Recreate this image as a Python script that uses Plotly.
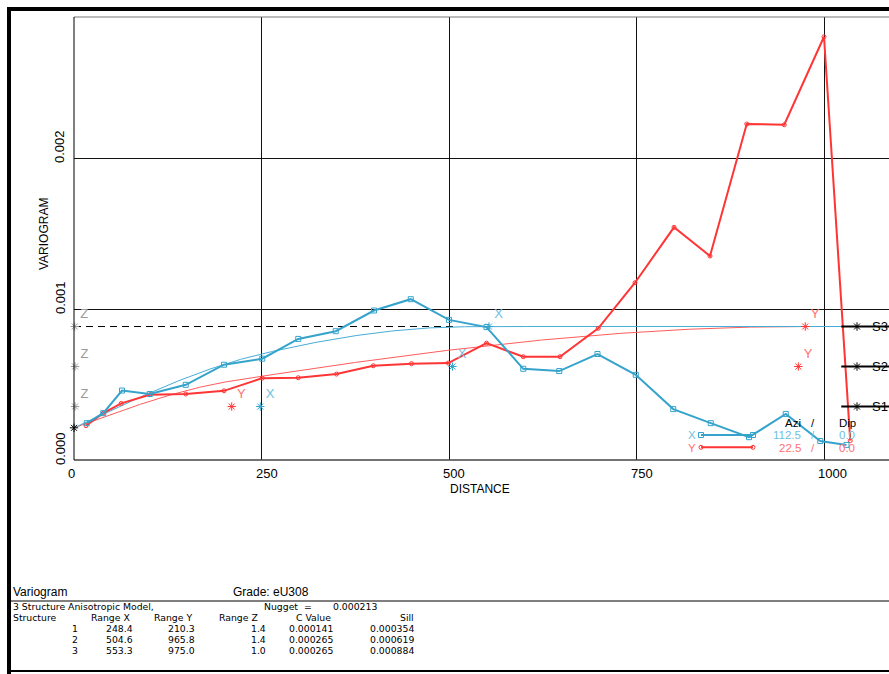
import numpy as np
import plotly.graph_objects as go

# ---- experimental variogram, X direction (azi 112.5 / dip 0.0)
lag_x = [17, 39, 64, 101, 149, 200, 251, 299, 349, 400, 449, 500, 550, 599,
         647, 698, 749, 799, 849, 900, 949, 995, 1030]
gam_x = [0.000244, 0.000310, 0.000460, 0.000437, 0.000498, 0.000631, 0.000671,
         0.000802, 0.000853, 0.000990, 0.001065, 0.000928, 0.000880, 0.000604,
         0.000589, 0.000702, 0.000564, 0.000337, 0.000244, 0.000151, 0.000305,
         0.000126, 0.000100]

# ---- experimental variogram, Y direction (azi 22.5 / dip 0.0)
lag_y = [16, 39, 63, 101, 149, 200, 251, 299, 350, 399, 450, 499, 550, 599,
         648, 699, 748, 800, 848, 897, 947, 1000, 1035]
gam_y = [0.000227, 0.000310, 0.000375, 0.000432, 0.000437, 0.000458, 0.000542,
         0.000545, 0.000569, 0.000624, 0.000638, 0.000642, 0.000774, 0.000684,
         0.000684, 0.000872, 0.001174, 0.001541, 0.001351, 0.002225, 0.002220,
         0.002803, 0.000128]

# ---- 3 structure anisotropic spherical model
nugget = 0.000213
structures = ["1", "2", "3"]
range_x = [248.4, 504.6, 553.3]
range_y = [210.3, 965.8, 975.0]
range_z = [1.4, 1.4, 1.0]
c_value = [0.000141, 0.000265, 0.000265]
sill = [0.000354, 0.000619, 0.000884]

azi_x, dip_x = "112.5", "0.0"
azi_y, dip_y = "22.5", "0.0"

x_ticks = [0, 250, 500, 750, 1000]
y_ticks = [0.000, 0.001, 0.002]
y_tick_text = ["0.000", "0.001", "0.002"]

model_end = 1023.0

BLUE = "#35A3CC"
BLUE_M = "#45ADD6"
RED = "#FF3535"
RED_M = "#FF5C5C"
BLUE_T = "#6FC0E0"
RED_T = "#FF7070"
GREY = "#9A9A9A"
FONT = "Liberation Sans"
TABLE_FONT = "DejaVu Sans"

# ---- page geometry (pixels)
W, H = 889, 674
L, T, B = 74, 17, 214
PW = W - L
PH = H - T - B
X_PER_PX = 1 / 0.75
XMAX = PW * X_PER_PX
YMAX = PH / 151000.0


def px(xp):
    return (xp - L) / PW


def py(yp):
    return (H - B - yp) / PH


def spherical(h, a):
    r = np.minimum(h / a, 1.0)
    return 1.5 * r - 0.5 * r ** 3


def model(h, ranges):
    g = np.full_like(h, nugget)
    for c, a in zip(c_value, ranges):
        g = g + c * spherical(h, a)
    return g


h = np.linspace(0, model_end, 600)

fig = go.Figure()

# Z direction sill line (reached at range ~1)
fig.add_trace(go.Scatter(x=[0, 512], y=[sill[-1], sill[-1]], mode="lines",
                         line=dict(color="black", width=1, dash="7px,5px"),
                         hoverinfo="skip"))

# model curves
fig.add_trace(go.Scatter(x=h, y=model(h, range_y), mode="lines",
                         line=dict(color=RED_M, width=1), hoverinfo="skip"))
fig.add_trace(go.Scatter(x=h, y=model(h, range_x), mode="lines",
                         line=dict(color=BLUE_M, width=1), hoverinfo="skip"))

# experimental curves
fig.add_trace(go.Scatter(x=lag_y, y=gam_y, mode="lines+markers",
                         line=dict(color=RED, width=2),
                         marker=dict(symbol="circle-open", size=4, color=RED,
                                     line=dict(width=1)),
                         cliponaxis=False))
fig.add_trace(go.Scatter(x=lag_x, y=gam_x, mode="lines+markers",
                         line=dict(color=BLUE, width=2),
                         marker=dict(symbol="square-open", size=5, color=BLUE,
                                     line=dict(width=1)),
                         cliponaxis=False))

# range markers for each structure
star = dict(symbol="asterisk-open", size=7, line=dict(width=1))
fig.add_trace(go.Scatter(x=range_z, y=sill, mode="markers+text", text=["Z"] * 3,
                         textposition="top right",
                         textfont=dict(color=GREY, size=13, family=FONT),
                         marker=dict(color=GREY, **star), cliponaxis=False))
fig.add_trace(go.Scatter(x=range_x, y=sill, mode="markers+text", text=["X"] * 3,
                         textposition="top right",
                         textfont=dict(color=BLUE_T, size=13, family=FONT),
                         marker=dict(color=BLUE, **star), cliponaxis=False))
fig.add_trace(go.Scatter(x=range_y, y=sill, mode="markers+text", text=["Y"] * 3,
                         textposition="top right",
                         textfont=dict(color=RED_T, size=13, family=FONT),
                         marker=dict(color=RED, **star), cliponaxis=False))

# nugget
fig.add_trace(go.Scatter(x=[0], y=[nugget], mode="markers",
                         marker=dict(color="black", **star), cliponaxis=False))

# sill levels S1..S3 at right
s_x0 = model_end
s_star = (857 - L) * X_PER_PX
for i, s in enumerate(sill):
    fig.add_trace(go.Scatter(x=[s_x0, XMAX + 5], y=[s, s], mode="lines",
                             line=dict(color="black", width=2), cliponaxis=False))
    fig.add_trace(go.Scatter(x=[s_star], y=[s], mode="markers",
                             marker=dict(color="black", **star), cliponaxis=False))

fig.update_layout(
    width=W, height=H,
    margin=dict(l=L, r=0, t=T, b=B, pad=0),
    paper_bgcolor="white", plot_bgcolor="white",
    showlegend=False,
    font=dict(family=FONT, size=13, color="black"),
    xaxis=dict(range=[0, XMAX], tickvals=x_ticks, showticklabels=False,
               showgrid=True, gridcolor="#111", gridwidth=1, zeroline=False,
               showline=False, ticks=""),
    yaxis=dict(range=[0, YMAX], tickvals=y_ticks, showticklabels=False,
               showgrid=True, gridcolor="#111", gridwidth=1, zeroline=False,
               showline=False, ticks=""),
)

shapes = []


def hline(x0, x1, y, color="black", width=1):
    shapes.append(dict(type="line", xref="paper", yref="paper",
                       x0=px(x0), x1=px(x1), y0=py(y), y1=py(y),
                       line=dict(color=color, width=width)))


def vline(x, y0, y1, color="black", width=1):
    shapes.append(dict(type="line", xref="paper", yref="paper",
                       x0=px(x), x1=px(x), y0=py(y0), y1=py(y1),
                       line=dict(color=color, width=width)))


# outer frame
hline(7, W + 2, 9, width=4)
vline(9, 7, H + 2, width=4)
hline(10, W + 2, 601, width=1)
hline(10, W + 2, 671, width=2)
# plot frame
hline(L, W + 2, T, color="#777", width=1)
hline(L, W + 2, 460, color="#444", width=1.5)
vline(L, T, 460, width=1)

# legend keys
hline(701, 753, 435, color=BLUE, width=2)
hline(701, 753, 447.3, color=RED, width=2)
fig.update_layout(shapes=shapes)

fig.add_trace(go.Scatter(x=[(701 - L) * X_PER_PX, (753 - L) * X_PER_PX],
                         y=[(H - B - 435) / 151000] * 2, mode="markers",
                         marker=dict(symbol="square-open", size=5, color=BLUE)))
fig.add_trace(go.Scatter(x=[(701 - L) * X_PER_PX, (753 - L) * X_PER_PX],
                         y=[(H - B - 447.3) / 151000] * 2, mode="markers",
                         marker=dict(symbol="circle-open", size=4, color=RED)))

ann = []


def text(x, y, s, anchor="left", color="black", size=13, angle=0, family=FONT):
    ann.append(dict(xref="paper", yref="paper", x=px(x), y=py(y), text=s,
                    showarrow=False, xanchor=anchor, yanchor="middle",
                    textangle=angle, borderpad=0,
                    font=dict(family=family, size=size, color=color)))


# axis tick labels
for v in x_ticks:
    text(L + v * 0.75 - 7, 473, str(v))
for v, s in zip(y_ticks, y_tick_text):
    text(60, 460 - v * 151000 - 11, s, anchor="center", angle=-90)
text(44, 234, "VARIOGRAM", anchor="center", size=12, angle=-90)
text(480, 489, "DISTANCE", anchor="center", size=12)

# S labels
for i, s in enumerate(sill):
    text(871, 460 - s * 151000, "S%d" % (i + 1))

# direction legend
LF = 11.5
text(802, 422.5, "Azi", anchor="right", size=LF)
text(810, 422.5, "/", size=LF)
text(838, 422.5, "Dip", size=LF)
text(687, 435, "X", color=BLUE_T, size=LF)
text(802, 435, azi_x, anchor="right", color=BLUE_T, size=LF)
text(810, 435, "/", color=BLUE_T, size=LF)
text(838, 435, dip_x, color=BLUE_T, size=LF)
text(687, 447.5, "Y", color=RED_T, size=LF)
text(802, 447.5, azi_y, anchor="right", color=RED_T, size=LF)
text(810, 447.5, "/", color=RED_T, size=LF)
text(838, 447.5, dip_y, color=RED_T, size=LF)

# caption block
TF = 9.3


def ttext(x, y, s, anchor="left"):
    text(x, y, s, anchor=anchor, size=TF, family=TABLE_FONT)


text(12, 592, "Variogram", size=12)
text(232, 592, "Grade: eU308", size=12)
ttext(12, 606.5, "3 Structure Anisotropic Model,")
ttext(263, 606.5, "Nugget  =")
ttext(378, 606.5, "%.6f" % nugget, anchor="right")
row_y = 617.5
ttext(12, row_y, "Structure")
ttext(90, row_y, "Range X")
ttext(153, row_y, "Range Y")
ttext(218, row_y, "Range Z")
ttext(295, row_y, "C Value")
ttext(415, row_y, "Sill", anchor="right")
for i in range(3):
    yy = row_y + 11 * (i + 1)
    ttext(75, yy, structures[i], anchor="center")
    ttext(134, yy, "%.1f" % range_x[i], anchor="right")
    ttext(196, yy, "%.1f" % range_y[i], anchor="right")
    ttext(267, yy, "%.1f" % range_z[i], anchor="right")
    ttext(334, yy, "%.6f" % c_value[i], anchor="right")
    ttext(415, yy, "%.6f" % sill[i], anchor="right")

fig.update_layout(annotations=ann)
fig.write_html("out.html")
